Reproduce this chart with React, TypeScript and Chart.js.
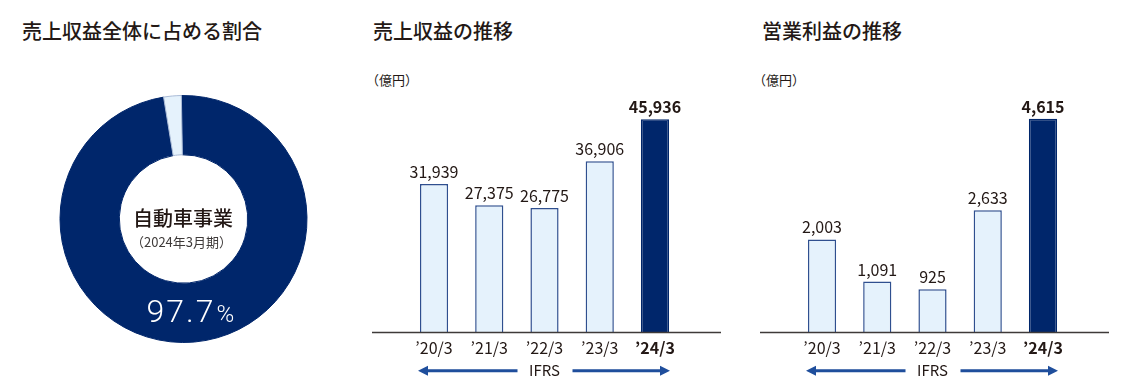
import React, { useEffect, useRef } from 'react';
import { Chart, registerables } from 'chart.js';

Chart.register(...registerables);

const NAVY = '#00266b';
const LIGHT = '#e5f2fc';
const BAR_BORDER = '#2f4f8f';
const TEXT = '#231815';
const ARROW = '#1f4e9c';
const FONT = "'Noto Sans CJK JP', 'Noto Sans', sans-serif";

// Data
const shareLabels = ['自動車事業', 'その他'];
const shareValues = [97.7, 2.3];
const shareCenterTitle = '自動車事業';
const shareCenterSub = '（2024年3月期）';
const shareValueText = '97.7';

const years = ['’20/3', '’21/3', '’22/3', '’23/3', '’24/3'];
const revenue = [31939, 27375, 26775, 36906, 45936];
const operatingProfit = [2003, 1091, 925, 2633, 4615];
const revenueMax = 50000;
const profitMax = 5000;
const standardLabel = 'IFRS';
const unitLabel = '（億円）';

const titles = ['売上収益全体に占める割合', '売上収益の推移', '営業利益の推移'];

const fmt = (v: number) => v.toLocaleString('en-US');

const doughnutText = {
  id: 'doughnutText',
  afterDraw(chart: any) {
    const arc = chart.getDatasetMeta(0).data[0];
    if (!arc) return;
    const cx = arc.x;
    const cy = arc.y;
    const ctx = chart.ctx;
    ctx.save();
    ctx.textAlign = 'center';
    ctx.textBaseline = 'middle';
    ctx.fillStyle = TEXT;
    ctx.font = `500 20px ${FONT}`;
    ctx.fillText(shareCenterTitle, cx - 0.5, cy - 1);
    ctx.fillStyle = '#3e3a39';
    ctx.font = `400 13px ${FONT}`;
    ctx.fillText(shareCenterSub, cx - 2, cy + 23);

    // 97.7%
    ctx.fillStyle = '#ffffff';
    ctx.textAlign = 'left';
    ctx.textBaseline = 'alphabetic';
    (ctx as any).letterSpacing = '2px';
    ctx.font = `300 32px Roboto, ${FONT}`;
    const x0 = cx - 37;
    const yb = cy + 102.5;
    ctx.fillText(shareValueText, x0, yb);
    const w = ctx.measureText(shareValueText).width;
    ctx.font = `300 24px Roboto, ${FONT}`;
    ctx.fillText('%', x0 + w + 1, yb);
    (ctx as any).letterSpacing = '0px';
    ctx.restore();
  },
};

const barDecor = {
  id: 'barDecor',
  afterDatasetsDraw(chart: any) {
    const ctx = chart.ctx;
    const meta = chart.getDatasetMeta(0);
    const data = chart.data.datasets[0].data as number[];
    const last = data.length - 1;
    const { left, right, bottom } = chart.chartArea;
    const xs = chart.scales.x;
    ctx.save();
    // baseline
    ctx.strokeStyle = '#3e3a39';
    ctx.lineWidth = 1.5;
    ctx.beginPath();
    ctx.moveTo(left - 34.4, bottom + 0.5);
    ctx.lineTo(right + 38.4, bottom + 0.5);
    ctx.stroke();

    // value labels
    ctx.textAlign = 'center';
    ctx.textBaseline = 'alphabetic';
    ctx.fillStyle = TEXT;
    meta.data.forEach((bar: any, i: number) => {
      ctx.font = `${i === last ? 700 : 400} 16px ${FONT}`;
      ctx.fillText(fmt(data[i]), bar.x, bar.y - 6);
    });

    // IFRS arrows
    const y = bottom + 38.7;
    const xFirst = xs.getPixelForValue(0) - 16;
    const xMid = xs.getPixelForValue(Math.floor(last / 2));
    const xLast = xs.getPixelForValue(last) + 15;
    ctx.strokeStyle = ARROW;
    ctx.fillStyle = ARROW;
    ctx.lineWidth = 3;
    const head = 10;
    ctx.beginPath();
    ctx.moveTo(xFirst + head - 1, y);
    ctx.lineTo(xMid - 27, y);
    ctx.moveTo(xMid + 28, y);
    ctx.lineTo(xLast - head + 1, y);
    ctx.stroke();
    ctx.beginPath();
    ctx.moveTo(xFirst, y);
    ctx.lineTo(xFirst + head, y - 5);
    ctx.lineTo(xFirst + head, y + 5);
    ctx.closePath();
    ctx.fill();
    ctx.beginPath();
    ctx.moveTo(xLast, y);
    ctx.lineTo(xLast - head, y - 5);
    ctx.lineTo(xLast - head, y + 5);
    ctx.closePath();
    ctx.fill();

    ctx.fillStyle = TEXT;
    ctx.font = `400 15px ${FONT}`;
    ctx.textAlign = 'center';
    ctx.textBaseline = 'middle';
    ctx.fillText(standardLabel, xMid, y);
    ctx.restore();
  },
};

function Doughnut() {
  const ref = useRef<HTMLCanvasElement>(null);
  useEffect(() => {
    const chart = new Chart(ref.current as HTMLCanvasElement, {
      type: 'doughnut',
      data: {
        labels: shareLabels,
        datasets: [
          {
            data: shareValues,
            backgroundColor: [NAVY, LIGHT],
            borderColor: [NAVY, '#a9bad6'],
            borderWidth: 1,
          },
        ],
      },
      options: {
        responsive: false,
        animation: false,
        events: [],
        cutout: '52%',
        rotation: -1,
        layout: { padding: { top: 35, bottom: 35, left: 0, right: 0 } },
        plugins: { legend: { display: false }, tooltip: { enabled: false } },
      },
      plugins: [doughnutText],
    } as any);
    return () => chart.destroy();
  }, []);
  return (
    <canvas
      ref={ref}
      width={367}
      height={318}
      style={{ position: 'absolute', left: 0, top: 60, width: 367, height: 318 }}
    />
  );
}

function BarChart(props: {
  values: number[];
  max: number;
  left: number;
  padLeft: number;
  padRight: number;
  padTop: number;
}) {
  const { values, max, left, padLeft, padRight, padTop } = props;
  const ref = useRef<HTMLCanvasElement>(null);
  useEffect(() => {
    const last = values.length - 1;
    const chart = new Chart(ref.current as HTMLCanvasElement, {
      type: 'bar',
      data: {
        labels: years,
        datasets: [
          {
            data: values,
            backgroundColor: values.map((_, i) => (i === last ? NAVY : LIGHT)),
            borderColor: values.map((_, i) => (i === last ? NAVY : BAR_BORDER)),
            borderWidth: 1.5,
            categoryPercentage: 1,
            barPercentage: 0.51,
          },
        ],
      },
      options: {
        responsive: false,
        animation: false,
        events: [],
        layout: { padding: { left: padLeft, right: padRight, top: padTop, bottom: 0 } },
        plugins: { legend: { display: false }, tooltip: { enabled: false } },
        scales: {
          x: {
            grid: { display: false, drawTicks: false },
            border: { display: false },
            ticks: {
              padding: 6.4,
              color: TEXT,
              autoSkip: false,
              maxRotation: 0,
              font: (c: any) => ({
                family: FONT,
                size: 16,
                weight: c.index === last ? 'bold' : 'normal',
              }),
            },
            afterFit: (s: any) => {
              s.height = 59;
            },
          },
          y: { display: false, min: 0, max },
        },
      },
      plugins: [barDecor],
    } as any);
    return () => chart.destroy();
  }, []);
  return (
    <canvas
      ref={ref}
      width={370}
      height={331}
      style={{ position: 'absolute', left, top: 60, width: 370, height: 331 }}
    />
  );
}

const titleStyle: React.CSSProperties = {
  position: 'absolute',
  top: 21,
  fontFamily: FONT,
  fontSize: 20,
  lineHeight: '20px',
  fontWeight: 500,
  color: TEXT,
  whiteSpace: 'nowrap',
};

const unitStyle: React.CSSProperties = {
  position: 'absolute',
  top: 73,
  fontFamily: FONT,
  fontSize: 13,
  lineHeight: '13px',
  color: TEXT,
  whiteSpace: 'nowrap',
};

export default function App() {
  return (
    <div
      style={{
        position: 'absolute',
        left: 0,
        top: 0,
        width: 1131,
        height: 391,
        background: '#ffffff',
        overflow: 'hidden',
      }}
    >
      <div style={{ ...titleStyle, left: 22 }}>{titles[0]}</div>
      <div style={{ ...titleStyle, left: 373 }}>{titles[1]}</div>
      <div style={{ ...titleStyle, left: 762 }}>{titles[2]}</div>
      <div style={{ ...unitStyle, left: 366 }}>{unitLabel}</div>
      <div style={{ ...unitStyle, left: 753 }}>{unitLabel}</div>
      <Doughnut />
      <BarChart values={revenue} max={revenueMax} left={360} padLeft={46.4} padRight={47.4} padTop={40.5} />
      <BarChart values={operatingProfit} max={profitMax} left={750} padLeft={44.4} padRight={49.4} padTop={41} />
    </div>
  );
}
